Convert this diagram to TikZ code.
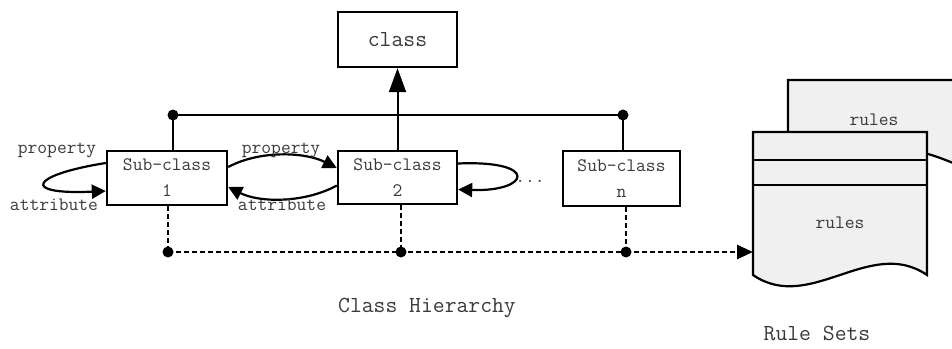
\documentclass[tikz,border=0pt]{standalone}
\usepackage{fontspec}
\usetikzlibrary{arrows.meta,calc}
\definecolor{docfill}{HTML}{F0F0F0}
\definecolor{ink}{HTML}{3A3A3A}
\tikzset{
  box/.style={draw=black, line width=2.4pt, fill=white, text=ink, align=center,
    font=\ttfamily\fontsize{19}{26}\selectfont, inner sep=0pt},
  lbl/.style={text=ink, font=\ttfamily\fontsize{19}{22}\selectfont, inner sep=0pt},
  title/.style={text=ink, font=\ttfamily\fontsize{23}{26}\selectfont, inner sep=0pt},
  bus/.style={line width=2pt},
  rel/.style={line width=2.2pt, -{Triangle[length=14pt,width=14pt]}},
  dashline/.style={line width=2.8pt, dash pattern=on 5pt off 3pt},
  dot/.style={circle, fill=black, inner sep=0pt, minimum size=11pt},
  doc/.style={draw=black, line width=2.2pt, fill=docfill},
}
\begin{document}
\begin{tikzpicture}[x=1pt,y=-1pt]
\useasboundingbox (0,0) rectangle (952,348);
\begin{scope}
\clip (0,0) rectangle (952,348);

% rule sets: back and front document shapes
\draw[doc] (788,80) -- (1000,80) -- (1000,175)
  .. controls (965,175) and (940,150) .. (900,150) -- (788,150) -- cycle;
\node[lbl] (rback) at (874,120) {rules};
\draw[doc] (753,132) -- (927,132) -- (927,275)
  .. controls (870,236) and (810,314) .. (753,275) -- cycle;
\draw[doc] (753,160) -- (927,160);
\draw[doc] (753,185) -- (927,185);
\node[lbl] (rfront) at (840,223) {rules};
\coordinate (docin) at (753,252);

% class hierarchy boxes
\node[box, minimum width=119pt, minimum height=55pt, font=\ttfamily\fontsize{23}{26}\selectfont] (cls) at (397.5,39.5) {class};
\node[box, minimum width=120pt, minimum height=54pt] (s1) at (167,178) {Sub-class\\1};
\node[box, minimum width=119pt, minimum height=53pt] (s2) at (397.5,177.5) {Sub-class\\2};
\node[box, minimum width=117pt, minimum height=55pt] (sn) at (621.5,178.5) {Sub-class\\n};

% inheritance bus
\node[dot] (b1) at (173,115) {};
\node[dot] (b2) at (623,115) {};
\draw[bus] (b1.center) -- (b2.center);
\draw[bus] (b1.center) -- (b1 |- s1.north);
\draw[bus] (b2.center) -- (b2 |- sn.north);
\draw[bus, -{Triangle[length=24pt,width=17pt]}] (s2.north) -- (cls.south);

% property / attribute relations
\draw[rel] ([yshift=15pt]s1.west) .. controls (30,175) and (20,195) .. ([yshift=-13pt]s1.west);
\node[lbl] (p1) at (57,150) {property};
\node[lbl] (a1) at (54,205) {attribute};
\draw[rel] ([yshift=11pt]s1.east) .. controls (260,150) and (305,152) .. ([yshift=9.5pt]s2.west);
\draw[rel] ([yshift=-8pt]s2.west) .. controls (305,203) and (260,203) .. ([yshift=-9pt]s1.east);
\node[lbl] (p2) at (281,150) {property};
\node[lbl] (a2) at (282,205) {attribute};
\draw[rel] ([yshift=14pt]s2.east) .. controls (540,160) and (530,192) .. ([yshift=-12pt]s2.east);
\node[lbl] (dots) at (530,181) {...};

% mapping to rule sets
\node[dot] (d1) at (168,252) {};
\node[dot] (d2) at (401,252) {};
\node[dot] (d3) at (626,252) {};
\draw[dashline] (d1 |- s1.south) -- (d1.center);
\draw[dashline] (d2 |- s2.south) -- (d2.center);
\draw[dashline] (d3 |- sn.south) -- (d3.center);
\draw[dashline] (d1.center) -- (d2.center) -- (d3.center);
\draw[dashline, -{Triangle[length=16pt,width=14pt]}] (d3.center) -- (docin);

% captions
\node[title] (t1) at (427,308) {Class Hierarchy};
\node[title] (t2) at (817,333) {Rule Sets};
\end{scope}
\end{tikzpicture}
\end{document}
